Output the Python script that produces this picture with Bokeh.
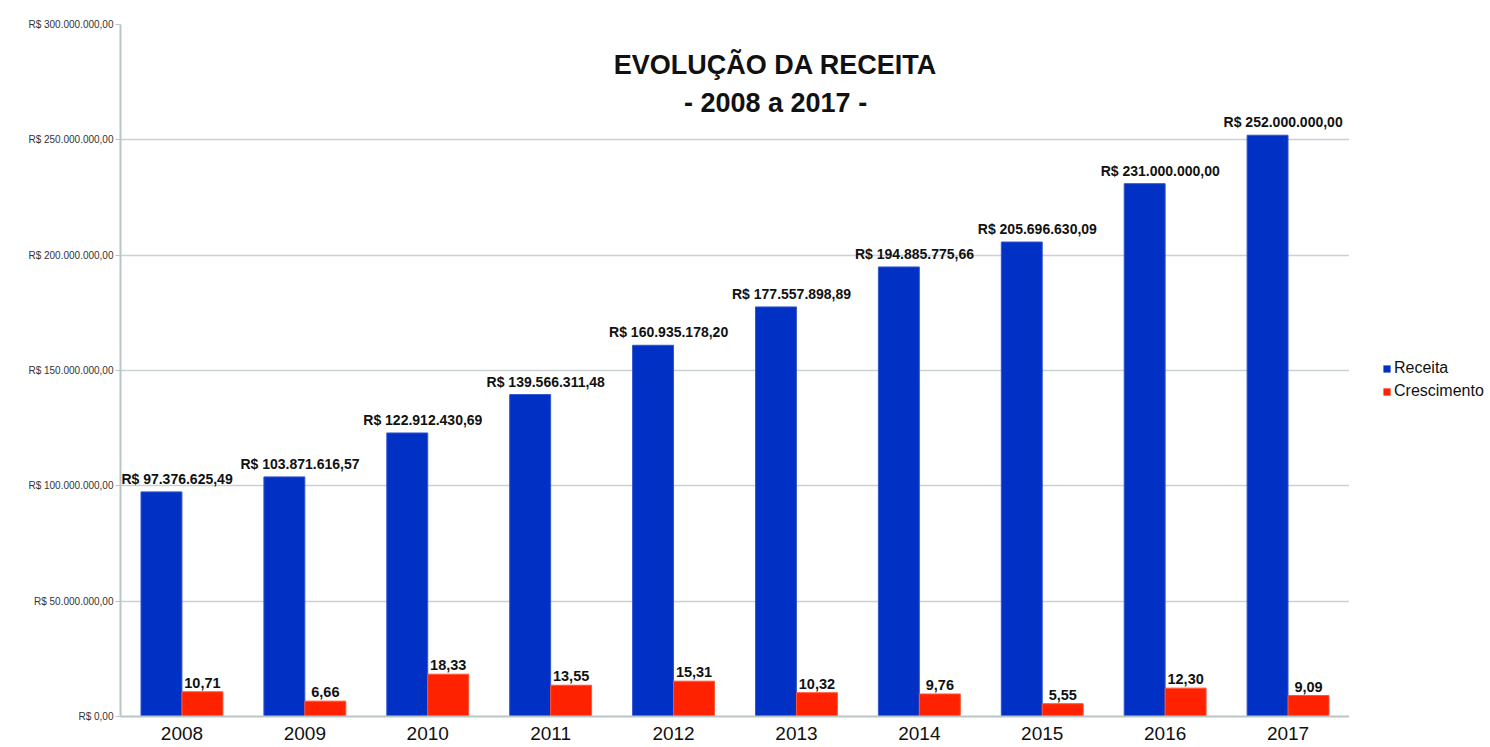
from bokeh.plotting import figure
from bokeh.layouts import row
from bokeh.models import (ColumnDataSource, FactorRange, Range1d, Legend, LegendItem,
                          Label, FixedTicker)
from bokeh.transform import dodge
from bokeh.embed import file_html
from bokeh.resources import INLINE
from bokeh.core.properties import value

years = ["2008", "2009", "2010", "2011", "2012", "2013", "2014", "2015", "2016", "2017"]
receita = [97376625.49, 103871616.57, 122912430.69, 139566311.48, 160935178.20,
           177557898.89, 194885775.66, 205696630.09, 231000000.00, 252000000.00]
crescimento = [10.71, 6.66, 18.33, 13.55, 15.31, 10.32, 9.76, 5.55, 12.30, 9.09]
y_ticks = [0, 50e6, 100e6, 150e6, 200e6, 250e6, 300e6]


def brl(v):
    s = f"{v:,.2f}"
    return s.replace(",", "X").replace(".", ",").replace("X", ".")


src = ColumnDataSource(dict(
    year=years,
    receita=receita,
    crescimento=crescimento,
    rlabel=["R$ " + brl(v) for v in receita],
    clabel=[f"{v:.2f}".replace(".", ",") for v in crescimento],
))

FONT = "Liberation Sans"
BLUE = "#0030C4"
RED = "#FF2200"

p = figure(x_range=FactorRange(*years), y_range=Range1d(0, 300e6),
           width=1349, height=747, output_backend="svg", toolbar_location=None,
           min_border_left=120, min_border_right=0, min_border_top=24, min_border_bottom=31)
p.extra_y_ranges = {"pct": Range1d(0, 300)}
p.outline_line_color = None
p.background_fill_color = "white"
p.border_fill_color = "white"

rb = p.vbar(x=dodge("year", -0.1667, range=p.x_range), top="receita", width=0.333,
            source=src, fill_color=BLUE, line_color="#3355d0", line_width=1)
rc = p.vbar(x=dodge("year", 0.1667, range=p.x_range), top="crescimento", width=0.333,
            source=src, fill_color=RED, line_color="#ff5533", line_width=1, y_range_name="pct")

p.text(x=dodge("year", -0.04, range=p.x_range), y="receita", text="rlabel", source=src,
       text_align="center", text_baseline="bottom", y_offset=-5,
       text_font=value(FONT), text_font_style="bold", text_font_size="14px",
       text_color="#111111")
p.text(x=dodge("year", 0.1667, range=p.x_range), y="crescimento", text="clabel", source=src,
       text_align="center", text_baseline="bottom", y_offset=-4, y_range_name="pct",
       text_font=value(FONT), text_font_style="bold", text_font_size="14.5px",
       text_color="#111111")

# axes
p.yaxis.ticker = FixedTicker(ticks=y_ticks)
p.yaxis.major_label_overrides = {t: "R$ " + brl(t) for t in y_ticks}
p.yaxis.major_label_text_font = FONT
p.yaxis.major_label_text_font_size = "10px"
p.yaxis.major_label_text_color = "#333333"
p.yaxis.major_tick_out = 5
p.yaxis.major_tick_in = 0
p.yaxis.minor_tick_line_color = None
p.yaxis.major_label_standoff = 2
p.yaxis.axis_line_color = "#b9c6c6"
p.yaxis.major_tick_line_color = "#b9c6c6"
p.yaxis.axis_line_width = 2

p.xaxis.major_label_text_font = FONT
p.xaxis.major_label_text_font_size = "19px"
p.xaxis.major_label_text_color = "#111111"
p.xaxis.major_tick_line_color = None
p.xaxis.major_label_standoff = 4
p.xaxis.axis_line_color = "#b9c6c6"
p.xaxis.axis_line_width = 2

p.xgrid.grid_line_color = None
p.ygrid.grid_line_color = "#c9d2d2"
p.ygrid.grid_line_width = 1.5

# title
for txt, yy in [("EVOLUÇÃO DA RECEITA", 282.5e6), ("- 2008 a 2017 -", 266e6)]:
    p.add_layout(Label(x=5.33, y=yy, text=txt, text_align="center", text_baseline="middle",
                       text_font=FONT, text_font_style="bold", text_font_size="27px",
                       text_color="#111111"))

# legend panel
p2 = figure(width=141, height=747, output_backend="svg", toolbar_location=None,
            x_range=Range1d(0, 1), y_range=Range1d(0, 1),
            x_axis_type=None, y_axis_type=None, min_border=0)
p2.outline_line_color = None
p2.xgrid.grid_line_color = None
p2.ygrid.grid_line_color = None
# zero-height legend proxies (draw nothing in the panel itself)
lb = p2.vbar(x=[0.5], top=[0], width=0.01, fill_color=BLUE, line_color=None)
lc = p2.vbar(x=[0.5], top=[0], width=0.01, fill_color=RED, line_color=None)
legend = Legend(items=[LegendItem(label="Receita", renderers=[lb]),
                       LegendItem(label="Crescimento", renderers=[lc])],
                location=(33, 316), orientation="vertical",
                glyph_width=9, glyph_height=9, label_text_font=FONT,
                label_text_font_size="16px", label_text_color="#111111",
                label_standoff=3, spacing=5, padding=2, margin=0,
                label_height=18,
                border_line_color=None, background_fill_alpha=0)
p2.add_layout(legend, "center")

open("out.html", "w").write(file_html(row(p, p2, spacing=0), INLINE))
